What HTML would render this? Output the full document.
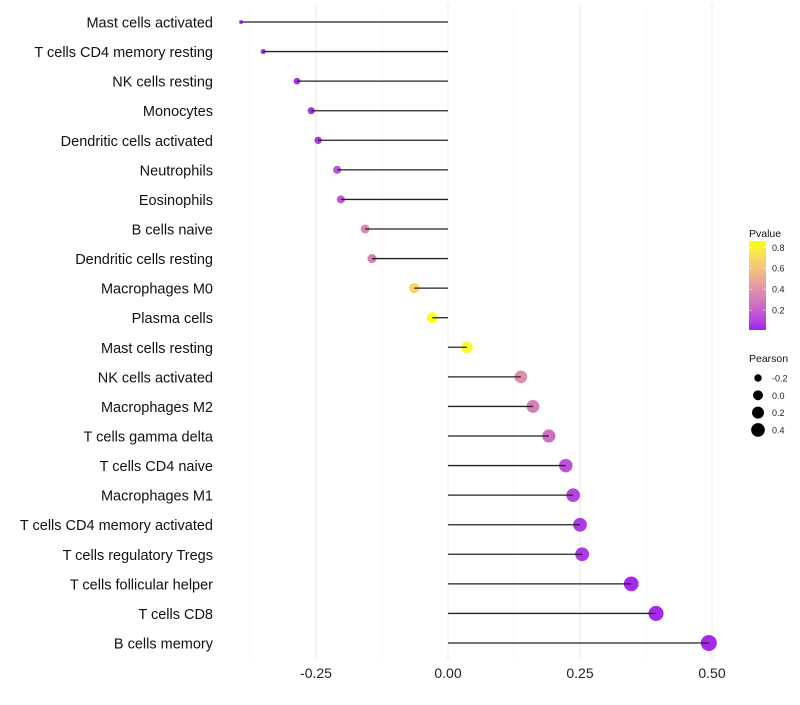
<!DOCTYPE html>
<html><head><meta charset="utf-8"><style>
body{margin:0;background:#fff;font-family:"Liberation Sans",sans-serif;}
svg text{font-family:"Liberation Sans",sans-serif;}
</style></head><body>
<svg id="chart" width="800" height="700" xmlns="http://www.w3.org/2000/svg"></svg>
<script>
const categories=["Mast cells activated","T cells CD4 memory resting","NK cells resting","Monocytes","Dendritic cells activated","Neutrophils","Eosinophils","B cells naive","Dendritic cells resting","Macrophages M0","Plasma cells","Mast cells resting","NK cells activated","Macrophages M2","T cells gamma delta","T cells CD4 naive","Macrophages M1","T cells CD4 memory activated","T cells regulatory  Tregs ","T cells follicular helper","T cells CD8","B cells memory"];
const pearson=[-0.392,-0.350,-0.286,-0.259,-0.246,-0.210,-0.203,-0.157,-0.144,-0.064,-0.030,0.036,0.138,0.161,0.191,0.223,0.237,0.250,0.254,0.347,0.394,0.494];
const pvalue=[0.03,0.03,0.04,0.06,0.07,0.15,0.18,0.35,0.33,0.68,0.85,0.82,0.38,0.32,0.25,0.15,0.10,0.07,0.07,0.03,0.03,0.03];
const xTicks=[-0.25,0,0.25,0.5];
const xTickLabels=["-0.25","0.00","0.25","0.50"];
const minorTicks=[-0.375,-0.125,0.125,0.375];
const legendP=[0.2,0.4,0.6,0.8];
const legendS=[-0.2,0.0,0.2,0.4];

const svg=document.getElementById('chart');
const NS="http://www.w3.org/2000/svg";
function mk(t,a,p){const e=document.createElementNS(NS,t);for(const k in a)e.setAttribute(k,a[k]);(p||svg).appendChild(e);return e;}
const x=v=>448+v*528;
const y=i=>22+i*(643-22)/(categories.length-1);
const rad=v=>Math.sqrt(Math.max(2,30.4+68*v));
function toLab(h){let r=[1,3,5].map(i=>parseInt(h.substr(i,2),16)/255).map(c=>c>0.04045?Math.pow((c+0.055)/1.055,2.4):c/12.92);
let X=(r[0]*0.4124+r[1]*0.3576+r[2]*0.1805)/0.95047,Y=r[0]*0.2126+r[1]*0.7152+r[2]*0.0722,Z=(r[0]*0.0193+r[1]*0.1192+r[2]*0.9505)/1.08883;
const f=t=>t>0.008856?Math.cbrt(t):7.787*t+16/116;return [116*f(Y)-16,500*(f(X)-f(Y)),200*(f(Y)-f(Z))];}
function fromLab(L,a,b){let fy=(L+16)/116,fx=fy+a/500,fz=fy-b/200;const g=t=>t*t*t>0.008856?t*t*t:(t-16/116)/7.787;
let X=g(fx)*0.95047,Y=g(fy),Z=g(fz)*1.08883;let r=[X*3.2406-Y*1.5372-Z*0.4986,-X*0.9689+Y*1.8758+Z*0.0415,X*0.0557-Y*0.2040+Z*1.0570];
return 'rgb('+r.map(c=>{c=c>0.0031308?1.055*Math.pow(c,1/2.4)-0.055:12.92*c;return Math.round(Math.min(1,Math.max(0,c))*255);}).join(',')+')';}
const L1=toLab("#a020f0"),L2=toLab("#ffff00");const pMin=0.01,pMax=0.86;
function col(p){let t=Math.min(1,Math.max(0,(p-pMin)/(pMax-pMin)));return fromLab(L1[0]+(L2[0]-L1[0])*t,L1[1]+(L2[1]-L1[1])*t,L1[2]+(L2[2]-L1[2])*t);}

minorTicks.forEach(v=>{const l=mk('line',{x1:x(v),x2:x(v),y1:5,y2:660,stroke:'#f2f2f2','stroke-width':0.6});});
xTicks.forEach((v,i)=>{const l=mk('line',{x1:x(v),x2:x(v),y1:5,y2:660,stroke:'#ebebeb','stroke-width':1.1});
const t=mk('text',{x:x(v),y:678,'text-anchor':'middle','font-size':14,fill:'#222'});t.textContent=xTickLabels[i];});
categories.forEach((c,i)=>{
const t=mk('text',{x:213,y:y(i)+5.5,'text-anchor':'end','font-size':14.5,fill:'#111'});t.textContent=c;
const d=mk('circle',{cx:x(pearson[i]),cy:y(i),r:rad(pearson[i]),fill:col(pvalue[i])});
const l=mk('line',{x1:x(0),x2:x(pearson[i]),y1:y(i),y2:y(i),stroke:'#222','stroke-width':1.3});
});
const g1=mk('g',{});
let tt=mk('text',{x:749,y:237,'font-size':10.5,fill:'#111'},g1);tt.textContent='Pvalue';
const defs=mk('defs',{});const lg=mk('linearGradient',{id:'pg',x1:0,y1:1,x2:0,y2:0},defs);
for(let k=0;k<=10;k++){const p=pMin+(pMax-pMin)*k/10;mk('stop',{offset:k/10,'stop-color':col(p)},lg);}
const sc=v=>330-(v-pMin)/(pMax-pMin)*(330-241);
mk('rect',{x:749,y:sc(pMax),width:17,height:330-sc(pMax),fill:'url(#pg)'},g1);
legendP.forEach(v=>{mk('line',{x1:749,x2:752,y1:sc(v),y2:sc(v),stroke:'#fff','stroke-width':0.5},g1);mk('line',{x1:763,x2:766,y1:sc(v),y2:sc(v),stroke:'#fff','stroke-width':0.5},g1);
const t=mk('text',{x:772,y:sc(v)+3.5,'font-size':9,fill:'#222'},g1);t.textContent=v.toFixed(1);});
const g2=mk('g',{});
tt=mk('text',{x:749,y:362,'font-size':10.5,fill:'#111'},g2);tt.textContent='Pearson';
legendS.forEach((v,i)=>{const cy=378+i*17.3;mk('circle',{cx:758,cy:cy,r:rad(v)*0.9,fill:'#000'},g2);
const t=mk('text',{x:772,y:cy+3.5,'font-size':9,fill:'#222'},g2);t.textContent=v.toFixed(1);});
</script>
</body></html>
